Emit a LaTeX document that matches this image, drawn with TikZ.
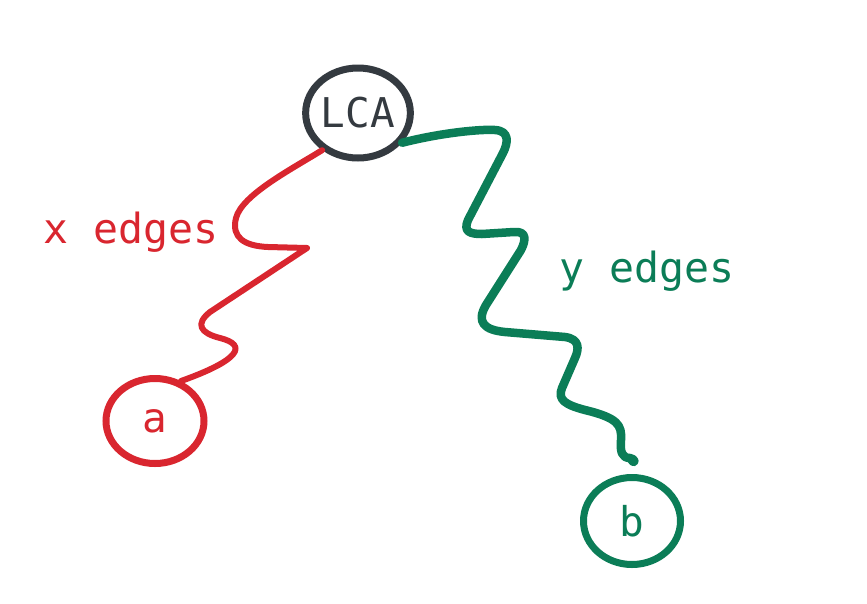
\documentclass[tikz,border=0pt]{standalone}
\usepackage{fontspec}
\setmonofont{DejaVu Sans Mono}
\usetikzlibrary{shapes.geometric}

\definecolor{lcagray}{HTML}{343A40}
\definecolor{xred}{HTML}{D9262F}
\definecolor{ygreen}{HTML}{0B7D57}

\tikzset{
  vertex/.style={ellipse, draw, line width=7pt, inner sep=0pt,
    font=\ttfamily\fontsize{41}{48}\selectfont},
  edgelabel/.style={anchor=base west, inner sep=0pt,
    font=\ttfamily\fontsize{41.5}{48}\selectfont},
  xpath/.style={xred, line width=6pt, line cap=round, line join=round},
  ypath/.style={ygreen, line width=8.5pt, line cap=round, line join=round}
}

\begin{document}
\begin{tikzpicture}[x=1pt, y=-1pt]
  \useasboundingbox (0,0) rectangle (867,603);

  % Tree nodes
  \node[vertex, lcagray, minimum width=99pt, minimum height=90pt] (lca) at (358,113) {LCA};
  \node[vertex, xred, minimum width=98pt, minimum height=85pt] (a) at (155,421) {a};
  \node[vertex, ygreen, minimum width=97pt, minimum height=87pt] (b) at (632,521) {b};

  % Wiggly path LCA -> a
  \draw[xpath] (lca.226) .. controls (290,170) and (242,195) .. (236,218)
    .. controls (231,238) and (245,246) .. (268,247) -- (307,248) -- (210,312)
    .. controls (195,324) and (200,333) .. (220,338)
    .. controls (248,345) and (240,360) .. (a.57);

  % Wiggly path LCA -> b
  \draw[ypath] (lca.326) .. controls (440,133) and (480,129) .. (495,130)
    .. controls (510,131) and (508,143) .. (503,153) -- (468,220)
    .. controls (463,232) and (470,234) .. (482,234) -- (514,232)
    .. controls (527,231) and (526,240) .. (521,250) -- (486,305)
    .. controls (476,322) and (484,330) .. (505,332) -- (565,337)
    .. controls (580,339) and (579,349) .. (575,358) -- (562,388)
    .. controls (557,400) and (566,405) .. (585,410)
    .. controls (618,418) and (622,425) .. (621,440)
    .. controls (620,452) and (622,458) .. (630,458)
    .. controls (636,459) and (635,464) .. ([yshift=13pt]b.north);

  % Edge counts
  \node[edgelabel, xred] (xlab) at (43,243) {x edges};
  \node[edgelabel, ygreen] (ylab) at (559,282) {y edges};
\end{tikzpicture}
\end{document}
